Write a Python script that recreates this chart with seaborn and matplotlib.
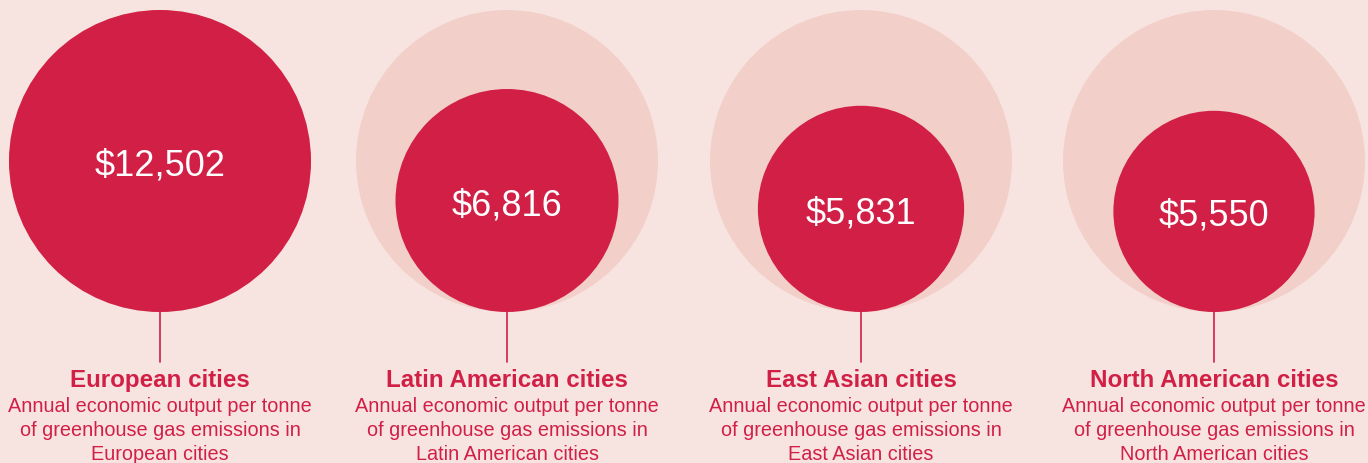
import pandas as pd
import matplotlib.pyplot as plt
import seaborn as sns
import numpy as np

# Chart data
regions = ["European cities", "Latin American cities", "East Asian cities", "North American cities"]
output_per_tonne = [12502, 6816, 5831, 5550]
value_labels = ["$12,502", "$6,816", "$5,831", "$5,550"]
subtitles = [
    ["Annual economic output per tonne", "of greenhouse gas emissions in", "European cities"],
    ["Annual economic output per tonne", "of greenhouse gas emissions in", "Latin American cities"],
    ["Annual economic output per tonne", "of greenhouse gas emissions in", "East Asian cities"],
    ["Annual economic output per tonne", "of greenhouse gas emissions in", "North American cities"],
]

# Colours
BG = "#F7E4E0"
PALE = "#F2D0C9"
RED = "#D11F46"

sns.set_theme(style="white")
plt.rcParams['font.family'] = ['Liberation Sans', 'DejaVu Sans']

DPI = 100
W, H = 1368, 463
col_x = [160, 507, 861, 1214]   # column centres (px)
base_y = 312                    # bottom of circles (px)
max_d = 302                     # diameter of the largest circle (px)

vmax = max(output_per_tonne)
df = pd.DataFrame({"region": regions, "value": output_per_tonne, "x": col_x})
df["radius"] = max_d / 2 * np.sqrt(df["value"] / vmax)
df["y"] = base_y - df["radius"]
df["ref"] = vmax
df["ref_y"] = base_y - max_d / 2

fig = plt.figure(figsize=(W / DPI, H / DPI), dpi=DPI, facecolor=BG)
ax = fig.add_axes([0, 0, 1, 1])
ax.set_facecolor(BG)
ax.set_xlim(0, W)
ax.set_ylim(H, 0)

# marker area in pt^2 for the largest circle
s_max = (max_d * 72 / DPI) ** 2

# pale reference circles (size of the largest value)
sns.scatterplot(data=df, x="x", y="ref_y", size="ref", sizes=(0, s_max), size_norm=(0, vmax),
                color=PALE, linewidth=0, legend=False, ax=ax, zorder=1)
# red circles, area proportional to value
sns.scatterplot(data=df, x="x", y="y", size="value", sizes=(0, s_max), size_norm=(0, vmax),
                color=RED, linewidth=0, legend=False, ax=ax, zorder=2)

for i, row in df.iterrows():
    ax.text(row["x"], row["y"] + 5, value_labels[i], color="white", fontsize=26,
            ha="center", va="center", zorder=3)
    ax.plot([row["x"], row["x"]], [base_y, 362], color=RED, lw=1.2, zorder=2)
    ax.text(row["x"], 387, row["region"], color=RED, fontsize=17.4, fontweight="bold",
            ha="center", va="baseline")
    for j, line in enumerate(subtitles[i]):
        ax.text(row["x"], 412 + 24 * j, line, color=RED, fontsize=14.3,
                ha="center", va="baseline")

ax.axis("off")
fig.savefig("out.png", dpi=DPI, facecolor=BG)
